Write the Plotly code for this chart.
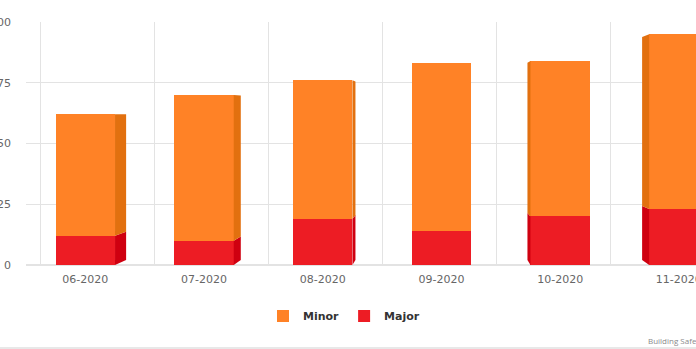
import plotly.graph_objects as go

# ---- data ----
months = ["06-2020", "07-2020", "08-2020", "09-2020", "10-2020", "11-2020"]
major = [12, 10, 19, 14, 20, 23]
minor = [50, 60, 57, 69, 64, 72]
y_ticks = [0, 25, 50, 75, 100]

# ---- style / layout constants ----
W, H = 696, 349
L_M, T_M, B_M = 26, 22, 84
CAT_PX = 118.7          # front category width in px
BACK_CAT_PX = 114.0     # back-wall category width in px
BACK_LEFT_PX = 40.0     # back wall left edge
BAR_W = 0.5
C_MINOR, C_MINOR_SIDE = "#FF8226", "#E2700F"
C_MAJOR, C_MAJOR_SIDE = "#ED1C24", "#CF0010"
GRID = "#e3e3e3"
VP_X, VP_Y, DEPTH_K = 3.0, 62.0, 0.034   # fake perspective for side faces

plot_w = W - L_M
x_idx = list(range(len(months)))
x0 = -0.5
x1 = x0 + plot_w / CAT_PX

# back-wall grid axis range
bx0 = -0.5 - (BACK_LEFT_PX - L_M) / BACK_CAT_PX
bx1 = bx0 + plot_w / BACK_CAT_PX

fig = go.Figure()
fig.add_trace(go.Bar(x=x_idx, y=major, name="Major", marker_color=C_MAJOR,
                     marker_line_width=0, width=BAR_W))
fig.add_trace(go.Bar(x=x_idx, y=minor, name="Minor", marker_color=C_MINOR,
                     marker_line_width=0, width=BAR_W, base=major))
# dummy trace to activate back-wall grid axis
fig.add_trace(go.Scatter(x=[0], y=[0], xaxis="x2", mode="markers",
                         marker=dict(opacity=0), showlegend=False, hoverinfo="skip"))

# side faces (perspective), computed from data
def back(px, py):
    return px + (VP_X - px) * DEPTH_K, py + (VP_Y - py) * DEPTH_K

shapes = []
for i, (mj, mn) in enumerate(zip(major, minor)):
    if i < VP_X:
        xf = i + BAR_W / 2
    elif i > VP_X:
        xf = i - BAR_W / 2
    else:
        continue
    for lo, hi, col in ((0, mj, C_MAJOR_SIDE), (mj, mj + mn, C_MINOR_SIDE)):
        bx_lo, by_lo = back(xf, lo)
        bx_hi, by_hi = back(xf, hi)
        path = f"M {xf},{lo} L {xf},{hi} L {bx_hi},{by_hi} L {bx_lo},{by_lo} Z"
        shapes.append(dict(type="path", path=path, xref="x", yref="y",
                           fillcolor=col, line=dict(width=0), layer="above"))

plot_h = H - T_M - B_M
line_y = -(H - 1 - (H - B_M)) / plot_h
shapes.append(dict(type="line", xref="paper", yref="paper",
                   x0=-0.1, x1=1.1, y0=line_y, y1=line_y,
                   line=dict(color="#e8e8e8", width=2)))

fig.update_layout(
    width=W, height=H,
    margin=dict(l=L_M, r=0, t=T_M, b=B_M, autoexpand=False),
    paper_bgcolor="white", plot_bgcolor="white",
    barmode="stack",
    showlegend=True,
    legend=dict(orientation="h", x=(344 - L_M) / plot_w, xanchor="center",
                y=-(316 - (H - B_M)) / plot_h, yanchor="middle",
                traceorder="reversed",
                font=dict(family="DejaVu Sans", size=11, color="#333333", weight="bold"),
                itemwidth=30),
    font=dict(family="DejaVu Sans", size=11, color="#666666"),
    xaxis=dict(range=[x0, x1], tickvals=x_idx, ticktext=months,
               showgrid=False, zeroline=False, showline=False,
               ticks="", ticklabelstandoff=6, automargin=False,
               ticklabeloverflow="allow",
               tickfont=dict(size=11, color="#666666")),
    xaxis2=dict(overlaying="x", range=[bx0, bx1],
                tickvals=[k - 0.5 for k in range(len(months))],
                showticklabels=False, showgrid=True, gridcolor=GRID, gridwidth=1,
                zeroline=False, showline=False, ticks=""),
    yaxis=dict(range=[0, 100], tickvals=y_ticks, showgrid=True, gridcolor=GRID,
               zeroline=True, zerolinecolor=GRID, showline=False, ticks="",
               ticklabelstandoff=14, automargin=False,
               ticklabeloverflow="allow",
               tickfont=dict(size=11, color="#666666")),
    annotations=[dict(text="Building Safety", xref="paper", yref="paper",
                      x=(646 - L_M) / plot_w, y=-(340 - (H - B_M)) / plot_h,
                      xanchor="left", yanchor="middle", showarrow=False,
                      font=dict(family="Open Sans", size=8, color="#8a8a8a"))],
    shapes=shapes,
    hovermode=False,
)

fig.write_html("out.html")
